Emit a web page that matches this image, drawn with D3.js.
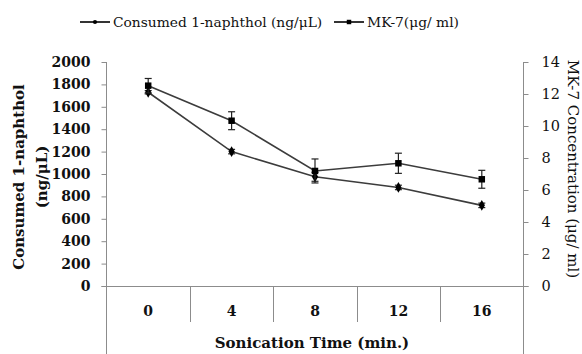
<!DOCTYPE html>
<html><head><meta charset="utf-8">
<script src="https://cdn.jsdelivr.net/npm/d3@7"></script>
<style>body{margin:0;background:#fff}svg{display:block}</style>
</head><body>
<svg id="c" width="582" height="354"></svg>
<script>
const categories = ["0","4","8","12","16"];
const consumed = [1730, 1200, 975, 880, 720];
const consumedErr = [15, 20, 40, 20, 20];
const mk7 = [12.52, 10.33, 7.19, 7.67, 6.67];
const mk7Err = [0.45, 0.56, 0.75, 0.63, 0.56];
const leftTicks = [0,200,400,600,800,1000,1200,1400,1600,1800,2000];
const rightTicks = [0,2,4,6,8,10,12,14];

const svg = d3.select("#c");
const font = "'DejaVu Serif', serif";
const axisCol = "#8c8c8c";
const lineCol = "#3c3c3c";
const L = 106.5, R = 523.5, T = 62, B = 286;

const x = d3.scaleBand().domain(categories).range([L, R]).padding(0);
const yL = d3.scaleLinear().domain([0, 2000]).range([B, T]);
const yR = d3.scaleLinear().domain([0, 14]).range([B, T]);

// left axis
const gL = svg.append("g").attr("transform", `translate(${L},0)`)
  .call(d3.axisLeft(yL).tickValues(leftTicks).tickFormat(d3.format("d")).tickSize(5).tickPadding(11).tickSizeOuter(0));
gL.select(".domain").remove();
gL.selectAll(".tick line").attr("stroke", axisCol);
gL.selectAll(".tick text").attr("font-family", font).attr("font-weight", "bold")
  .attr("font-size", 14).attr("fill", "#111");
svg.append("line").attr("x1", L).attr("x2", L).attr("y1", T).attr("y2", 354).attr("stroke", axisCol);

// right axis
const gR = svg.append("g").attr("transform", `translate(${R},0)`)
  .call(d3.axisRight(yR).tickValues(rightTicks).tickFormat(d3.format("d")).tickSize(5).tickPadding(13).tickSizeOuter(0));
gR.select(".domain").remove();
gR.selectAll(".tick line").attr("stroke", axisCol);
gR.selectAll(".tick text").attr("font-family", font)
  .attr("font-size", 14.5).attr("fill", "#111");
svg.append("line").attr("x1", R).attr("x2", R).attr("y1", T).attr("y2", 354).attr("stroke", axisCol);

// category axis at zero
svg.append("line").attr("x1", L - 5).attr("x2", R + 5).attr("y1", B + 0.5).attr("y2", B + 0.5).attr("stroke", axisCol);
categories.slice(1).forEach(c => {
  const bx = Math.round(x(c)) + 0.5;
  svg.append("line").attr("x1", bx).attr("x2", bx).attr("y1", B).attr("y2", 322).attr("stroke", axisCol);
});
svg.selectAll(".xl").data(categories).enter().append("text")
  .attr("x", d => x(d) + x.bandwidth() / 2).attr("y", 316)
  .attr("text-anchor", "middle").attr("font-family", font).attr("font-weight", "bold")
  .attr("font-size", 14).attr("fill", "#111").text(d => d);

// axis titles
svg.append("text").attr("x", 312).attr("y", 348).attr("text-anchor", "middle")
  .attr("font-family", font).attr("font-weight", "bold").attr("font-size", 15).attr("fill", "#111")
  .text("Sonication Time (min.)");
const lt = svg.append("text").attr("transform", "translate(0,177) rotate(-90)")
  .attr("text-anchor", "middle").attr("font-family", font).attr("font-weight", "bold")
  .attr("font-size", 15).attr("fill", "#111");
lt.append("tspan").attr("x", 0).attr("y", 24).text("Consumed 1-naphthol");
lt.append("tspan").attr("x", 0).attr("y", 47).text("(ng/μL)");
svg.append("text").attr("transform", "translate(568,169) rotate(90)")
  .attr("text-anchor", "middle").attr("font-family", font).attr("font-size", 15).attr("fill", "#111")
  .text("MK-7 Concentration (μg/ ml)");

const cx = d => x(d) + x.bandwidth() / 2;

function drawSeries(vals, errs, y, marker) {
  const g = svg.append("g");
  const line = d3.line().x((d, i) => cx(categories[i])).y(d => y(d));
  g.append("path").datum(vals).attr("d", line).attr("fill", "none")
    .attr("stroke", lineCol).attr("stroke-width", 1.6);
  vals.forEach((v, i) => {
    const px = cx(categories[i]);
    const y1 = y(v + errs[i]), y2 = y(v - errs[i]);
    g.append("line").attr("x1", px).attr("x2", px).attr("y1", y1).attr("y2", y2).attr("stroke", "#222").attr("stroke-width", 1.2);
    [y1, y2].forEach(yy => g.append("line").attr("x1", px - 3.5).attr("x2", px + 3.5)
      .attr("y1", yy).attr("y2", yy).attr("stroke", "#222").attr("stroke-width", 1.2));
    g.append("path").attr("transform", `translate(${px},${y(v)})`)
      .attr("d", d3.symbol().type(marker === "square" ? d3.symbolSquare : d3.symbolDiamond)
        .size(marker === "square" ? 42 : 34)()).attr("fill", "#000");
  });
}
drawSeries(consumed, consumedErr, yL, "diamond");
drawSeries(mk7, mk7Err, yR, "square");

// legend
const lg = svg.append("g");
function legendItem(x0, label, marker) {
  lg.append("line").attr("x1", x0).attr("x2", x0 + 30).attr("y1", 22).attr("y2", 22)
    .attr("stroke", "#000").attr("stroke-width", 1.6);
  lg.append("path").attr("transform", `translate(${x0 + 15},22)`)
    .attr("d", d3.symbol().type(marker === "square" ? d3.symbolSquare : d3.symbolCircle)
      .size(marker === "square" ? 20 : 14)()).attr("fill", "#000");
  lg.append("text").attr("x", x0 + 33).attr("y", 27).attr("font-family", font)
    .attr("font-size", 13.8).attr("fill", "#111").text(label);
}
legendItem(80, "Consumed 1-naphthol (ng/μL)", "circle");
legendItem(334, "MK-7(μg/ ml)", "square");
</script>
</body></html>
